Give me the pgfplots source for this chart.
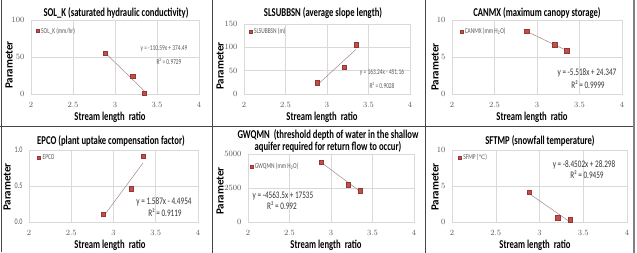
\documentclass[border=0pt]{standalone}
\usepackage{pgfplots}
\pgfplotsset{compat=1.18}
\usepackage{fontspec}
\setmainfont{Carlito}
\newfontfamily\cond[FakeStretch=0.72]{Carlito}
\newfontfamily\dejavu{DejaVu Sans}
\definecolor{gridc}{RGB}{217,217,217}
\definecolor{tickc}{RGB}{89,89,89}
\definecolor{mfill}{RGB}{192,80,77}
\definecolor{mdraw}{RGB}{150,55,52}
\definecolor{trend}{RGB}{165,135,135}
\definecolor{framec}{RGB}{70,70,70}
\pgfplotsset{
  panel/.style={
    scale only axis, xmin=2, xmax=4, ymin=0,
    xtick={2,2.5,3,3.5,4},
    grid=major, grid style={draw=gridc, line width=0.5pt},
    axis line style={draw=gridc, line width=0.5pt},
    major tick length=0pt,
    tick label style={font=\cond\fontsize{8.5}{9}\selectfont, text=tickc},
    xticklabel style={yshift=-5pt},
    yticklabel style={xshift=-3pt},
    /pgf/number format/set thousands separator={},
    legend style={draw=none, fill=none, font=\cond\fontsize{7.5}{8}\selectfont, text=tickc, anchor=west, inner sep=0pt, legend cell align=left},
    legend image code/.code={\draw[mark repeat=2,mark phase=2,#1, mark size=1.5pt] plot coordinates {(0cm,0cm) (0.1cm,0cm) (0.2cm,0cm)};},
  },
  pts/.style={only marks, mark=square*, mark size=2.2pt, mark options={fill=mfill, draw=mdraw, line width=0.4pt}},
  tl/.style={draw=trend, line width=0.5pt, no marks, forget plot},
}
\newcommand{\ttl}[1]{{\cond\bfseries\fontsize{12}{13}\selectfont #1}}
\newcommand{\xl}{{\cond\bfseries\fontsize{12}{13}\selectfont Stream length\ \ ratio}}
\newcommand{\yl}{{\bfseries\fontsize{11}{12}\selectfont Parameter}}
\begin{document}
\begin{tikzpicture}[x=1pt,y=1pt]
\useasboundingbox (0,0) rectangle (637,253);
\fill[white] (0,0) rectangle (637,253);
% panel frames
\draw[framec, line width=1pt] (1,0.5) -- (1,253);
\draw[framec, line width=1pt] (212,0) -- (212,253);
\draw[framec, line width=1pt] (425,0) -- (425,253);
\draw[framec, line width=1pt] (0,126) -- (634,126);
\draw[gray, line width=2pt] (634,0) -- (634,253);

% P1
\begin{axis}[panel, at={(31pt,159pt)}, anchor=south west, width=168pt, height=74pt,
  ymax=100, ytick={0,50,100}, legend style={at={(0.03,0.85)}}]
\addplot[pts] coordinates {(2.88,55) (3.21,24) (3.35,1)};
\addlegendentry{SOL\_K (mm/hr)}
\addplot[tl] coordinates {(2.88,55.99) (3.35,4.01)};
\end{axis}
% P2
\begin{axis}[panel, at={(244pt,159pt)}, anchor=south west, width=166pt, height=70pt,
  ymax=150, ytick={0,50,100,150}, legend style={at={(0.03,0.89)}}]
\addplot[pts] coordinates {(2.88,24) (3.21,58) (3.35,106)};
\addlegendentry{SLSUBBSN (m)}
\addplot[tl] coordinates {(2.88,18.97) (3.35,95.69)};
\end{axis}
% P3
\begin{axis}[panel, at={(452pt,159pt)}, anchor=south west, width=170pt, height=74pt,
  ymax=10, ytick={0,5,10}, legend style={at={(0.045,0.84)}}]
\addplot[pts] coordinates {(2.88,8.45) (3.21,6.65) (3.35,5.85)};
\addlegendentry{CANMX (mm H\textsubscript{2}O)}
\addplot[tl] coordinates {(2.88,8.455) (3.35,5.862)};
\end{axis}
% P4
\begin{axis}[panel, at={(29pt,31pt)}, anchor=south west, width=169pt, height=72pt,
  ymax=1, ytick={0,0.5,1}, yticklabels={0.0,0.5,1.0}, legend style={at={(0.05,0.89)}}]
\addplot[pts] coordinates {(2.88,0.11) (3.21,0.46) (3.35,0.91)};
\addlegendentry{EPCO}
\addplot[tl] coordinates {(2.88,0.075) (3.35,0.821)};
\end{axis}
% P5
\begin{axis}[panel, at={(248pt,31pt)}, anchor=south west, width=166pt, height=68pt,
  ymax=5000, ytick={0,2500,5000}, scaled y ticks=false, legend style={at={(0.01,0.81)}}]
\addplot[pts] coordinates {(2.88,4400) (3.21,2750) (3.35,2300)};
\addlegendentry{GWQMN (mm H\textsubscript{2}O)}
\addplot[tl] coordinates {(2.88,4392) (3.35,2247)};
\end{axis}
% P6
\begin{axis}[panel, at={(452pt,31pt)}, anchor=south west, width=175pt, height=72pt,
  ymax=10, ytick={0,5,10}, legend style={at={(0.035,0.89)}}]
\addplot[pts] coordinates {(2.88,4.1) (3.21,0.6) (3.35,0.3)};
\addlegendentry{SFMP ({\dejavu\fontsize{6}{7}\selectfont ℃})}
\addplot[tl] coordinates {(2.88,3.96) (3.35,0.0)};
\end{axis}

% titles
\node at (116,240) {\ttl{SOL\_K (saturated hydraulic conductivity)}};
\node at (323,240) {\ttl{SLSUBBSN (average slope length)}};
\node at (537,240) {\ttl{CANMX (maximum canopy storage)}};
\node at (111,112) {\ttl{EPCO (plant uptake compensation factor)}};
\node at (328,118) {\ttl{GWQMN\ \ (threshold depth of water in the shallow}};
\node at (328,106) {\ttl{aquifer required for return flow to occur)}};
\node at (540,112) {\ttl{SFTMP (snowfall temperature)}};
% x labels
\node at (110,136) {\xl};
\node at (322,136) {\xl};
\node at (532,136) {\xl};
\node at (110,8) {\xl};
\node at (326,8) {\xl};
\node at (535,8) {\xl};
% y labels
\node[rotate=90] at (9,188) {\yl};
\node[rotate=90] at (220,187) {\yl};
\node[rotate=90] at (435,186) {\yl};
\node[rotate=90] at (7,66) {\yl};
\node[rotate=90] at (220,62) {\yl};
\node[rotate=90] at (435,66) {\yl};
% equations
\begin{scope}[every node/.style={font=\cond\fontsize{7.5}{8}\selectfont, text=tickc}]
\node at (164,204) {y = -110.59x + 374.49};
\node at (169,191) {R² = 0.9729};
\node at (382,180) {y = 163.24x - 451.16};
\node at (382,167) {R² = 0.9028};
\end{scope}
\begin{scope}[every node/.style={font=\cond\fontsize{10}{11}\selectfont, text=black!80}]
\node at (587,180) {y = -5.518x + 24.347};
\node at (588,168) {R² = 0.9999};
\node at (164,51) {y = 1.587x - 4.4954};
\node at (165,40) {R² = 0.9119};
\node at (283,57) {y = -4563.5x + 17535};
\node at (282,47) {R² = 0.992};
\node at (584,88) {y = -8.4502x + 28.298};
\node at (587,78) {R² = 0.9459};
\end{scope}
\end{tikzpicture}
\end{document}
